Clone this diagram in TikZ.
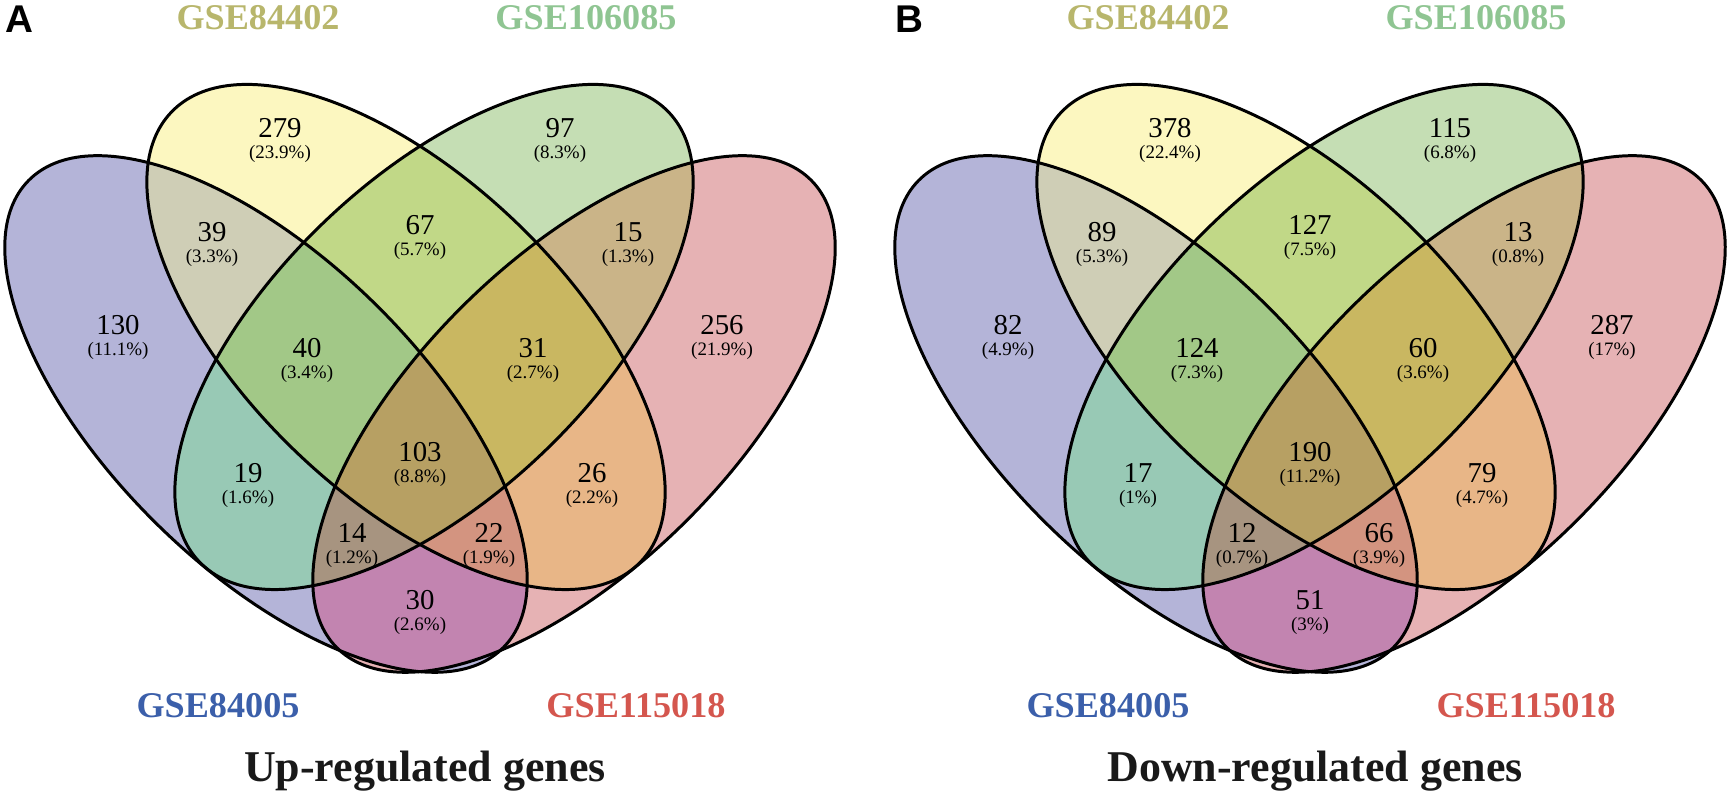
\documentclass[tikz,border=0pt]{standalone}
\usepackage{fontspec}
\setmainfont{Liberation Serif}
\newfontfamily\tagfont{Liberation Sans}
\usepackage{xcolor}
\usepackage{tikz}
\usetikzlibrary{positioning}

% region colours (A blue, B yellow, C green, D red)
\definecolor{cA}{HTML}{B4B4D8}
\definecolor{cB}{HTML}{FCF7C0}
\definecolor{cC}{HTML}{C5DEB4}
\definecolor{cD}{HTML}{E6B2B4}
\definecolor{cAB}{HTML}{CFCEB6}
\definecolor{cAC}{HTML}{98C9B5}
\definecolor{cAD}{HTML}{C284B0}
\definecolor{cBC}{HTML}{C1D887}
\definecolor{cBD}{HTML}{E8B687}
\definecolor{cCD}{HTML}{CAB488}
\definecolor{cABC}{HTML}{A2C887}
\definecolor{cABD}{HTML}{D39480}
\definecolor{cACD}{HTML}{A79480}
\definecolor{cBCD}{HTML}{C9B761}
\definecolor{cABCD}{HTML}{B7A063}
% set name colours
\definecolor{gseY}{HTML}{B8B66C}
\definecolor{gseG}{HTML}{8FC592}
\definecolor{gseB}{HTML}{3B5FAA}
\definecolor{gseR}{HTML}{D4564E}

% the four ellipses
\newcommand{\ellA}{[rotate around={-44.5:(2.66,3.81)}] (2.66,3.81) ellipse [x radius=3.33, y radius=1.55]}
\newcommand{\ellB}{[rotate around={-43.8:(4.06,4.58)}] (4.06,4.58) ellipse [x radius=3.25, y radius=1.59]}
\newcommand{\ellC}{[rotate around={43.8:(4.34,4.58)}] (4.34,4.58) ellipse [x radius=3.25, y radius=1.59]}
\newcommand{\ellD}{[rotate around={44.5:(5.74,3.81)}] (5.74,3.81) ellipse [x radius=3.33, y radius=1.55]}

\tikzset{
  outline/.style={draw=black, line width=0.85pt},
  setname/.style={font=\bfseries\fontsize{10.3}{12}\selectfont, inner sep=0pt, anchor=base},
  paneltitle/.style={font=\bfseries\fontsize{12.5}{14}\selectfont, text=black!90, inner sep=0pt, anchor=base},
  paneltag/.style={font=\tagfont\bfseries\fontsize{11}{13}\selectfont, inner sep=0pt, anchor=base west},
  cnt/.style={font=\fontsize{8.2}{10}\selectfont, inner sep=0pt},
  pct/.style={font=\fontsize{5.4}{6}\selectfont, inner sep=0pt},
}

\begin{document}
\begin{tikzpicture}
    \useasboundingbox (0,0) rectangle (17.33,7.95);
    % both diagrams
    \foreach \dx in {0,8.9} {
      \begin{scope}[xshift=\dx cm]
        % one set
        \fill[cA] \ellA; \fill[cB] \ellB; \fill[cC] \ellC; \fill[cD] \ellD;
        % two sets
        \begin{scope} \clip \ellA; \fill[cAB] \ellB; \fill[cAC] \ellC; \fill[cAD] \ellD; \end{scope}
        \begin{scope} \clip \ellB; \fill[cBC] \ellC; \fill[cBD] \ellD; \end{scope}
        \begin{scope} \clip \ellC; \fill[cCD] \ellD; \end{scope}
        % three sets
        \begin{scope} \clip \ellA; \clip \ellB; \fill[cABC] \ellC; \fill[cABD] \ellD; \end{scope}
        \begin{scope} \clip \ellA; \clip \ellC; \fill[cACD] \ellD; \end{scope}
        \begin{scope} \clip \ellB; \clip \ellC; \fill[cBCD] \ellD; \end{scope}
        % four sets
        \begin{scope} \clip \ellA; \clip \ellB; \clip \ellC; \fill[cABCD] \ellD; \end{scope}
        % outlines
        \draw[outline] \ellA; \draw[outline] \ellB; \draw[outline] \ellC; \draw[outline] \ellD;
      \end{scope}
    }

    % panel A
    \node[paneltag] (tagA) at (0.05,7.62) {A};
    \node[setname, text=gseY] (aY) at (2.58,7.65) {GSE84402};
    \node[setname, text=gseG] (aG) at (5.86,7.65) {GSE106085};
    \node[setname, text=gseB] (aB) at (2.18,0.77) {GSE84005};
    \node[setname, text=gseR] (aR) at (6.36,0.77) {GSE115018};
    \node[paneltitle] (aT) at (4.25,0.13) {Up-regulated genes};
    \foreach \x/\y/\n/\p [count=\k] in {2.80/6.67/279/23.9, 5.60/6.67/97/8.3,
        2.12/5.63/39/3.3, 4.20/5.70/67/5.7, 6.28/5.63/15/1.3,
        1.18/4.70/130/11.1, 7.22/4.70/256/21.9, 3.07/4.47/40/3.4, 5.33/4.47/31/2.7,
        4.20/3.43/103/8.8, 2.48/3.22/19/1.6, 5.92/3.22/26/2.2,
        3.52/2.62/14/1.2, 4.89/2.62/22/1.9, 4.20/1.95/30/2.6} {
        \node[cnt] (a\k) at (\x,\y) {\n};
        \node[pct, below=0.6mm of a\k] (ap\k) {(\p\%)};
    }

    % panel B
    \begin{scope}[xshift=8.9cm]
    \node[paneltag] (tagB) at (0.05,7.62) {B};
    \node[setname, text=gseY] (bY) at (2.58,7.65) {GSE84402};
    \node[setname, text=gseG] (bG) at (5.86,7.65) {GSE106085};
    \node[setname, text=gseB] (bB) at (2.18,0.77) {GSE84005};
    \node[setname, text=gseR] (bR) at (6.36,0.77) {GSE115018};
    \node[paneltitle] (bT) at (4.25,0.13) {Down-regulated genes};
    \foreach \x/\y/\n/\p [count=\k] in {2.80/6.67/378/22.4, 5.60/6.67/115/6.8,
        2.12/5.63/89/5.3, 4.20/5.70/127/7.5, 6.28/5.63/13/0.8,
        1.18/4.70/82/4.9, 7.22/4.70/287/17, 3.07/4.47/124/7.3, 5.33/4.47/60/3.6,
        4.20/3.43/190/11.2, 2.48/3.22/17/1, 5.92/3.22/79/4.7,
        3.52/2.62/12/0.7, 4.89/2.62/66/3.9, 4.20/1.95/51/3} {
        \node[cnt] (b\k) at (\x,\y) {\n};
        \node[pct, below=0.6mm of b\k] (bp\k) {(\p\%)};
    }
    \end{scope}
\end{tikzpicture}
\end{document}
